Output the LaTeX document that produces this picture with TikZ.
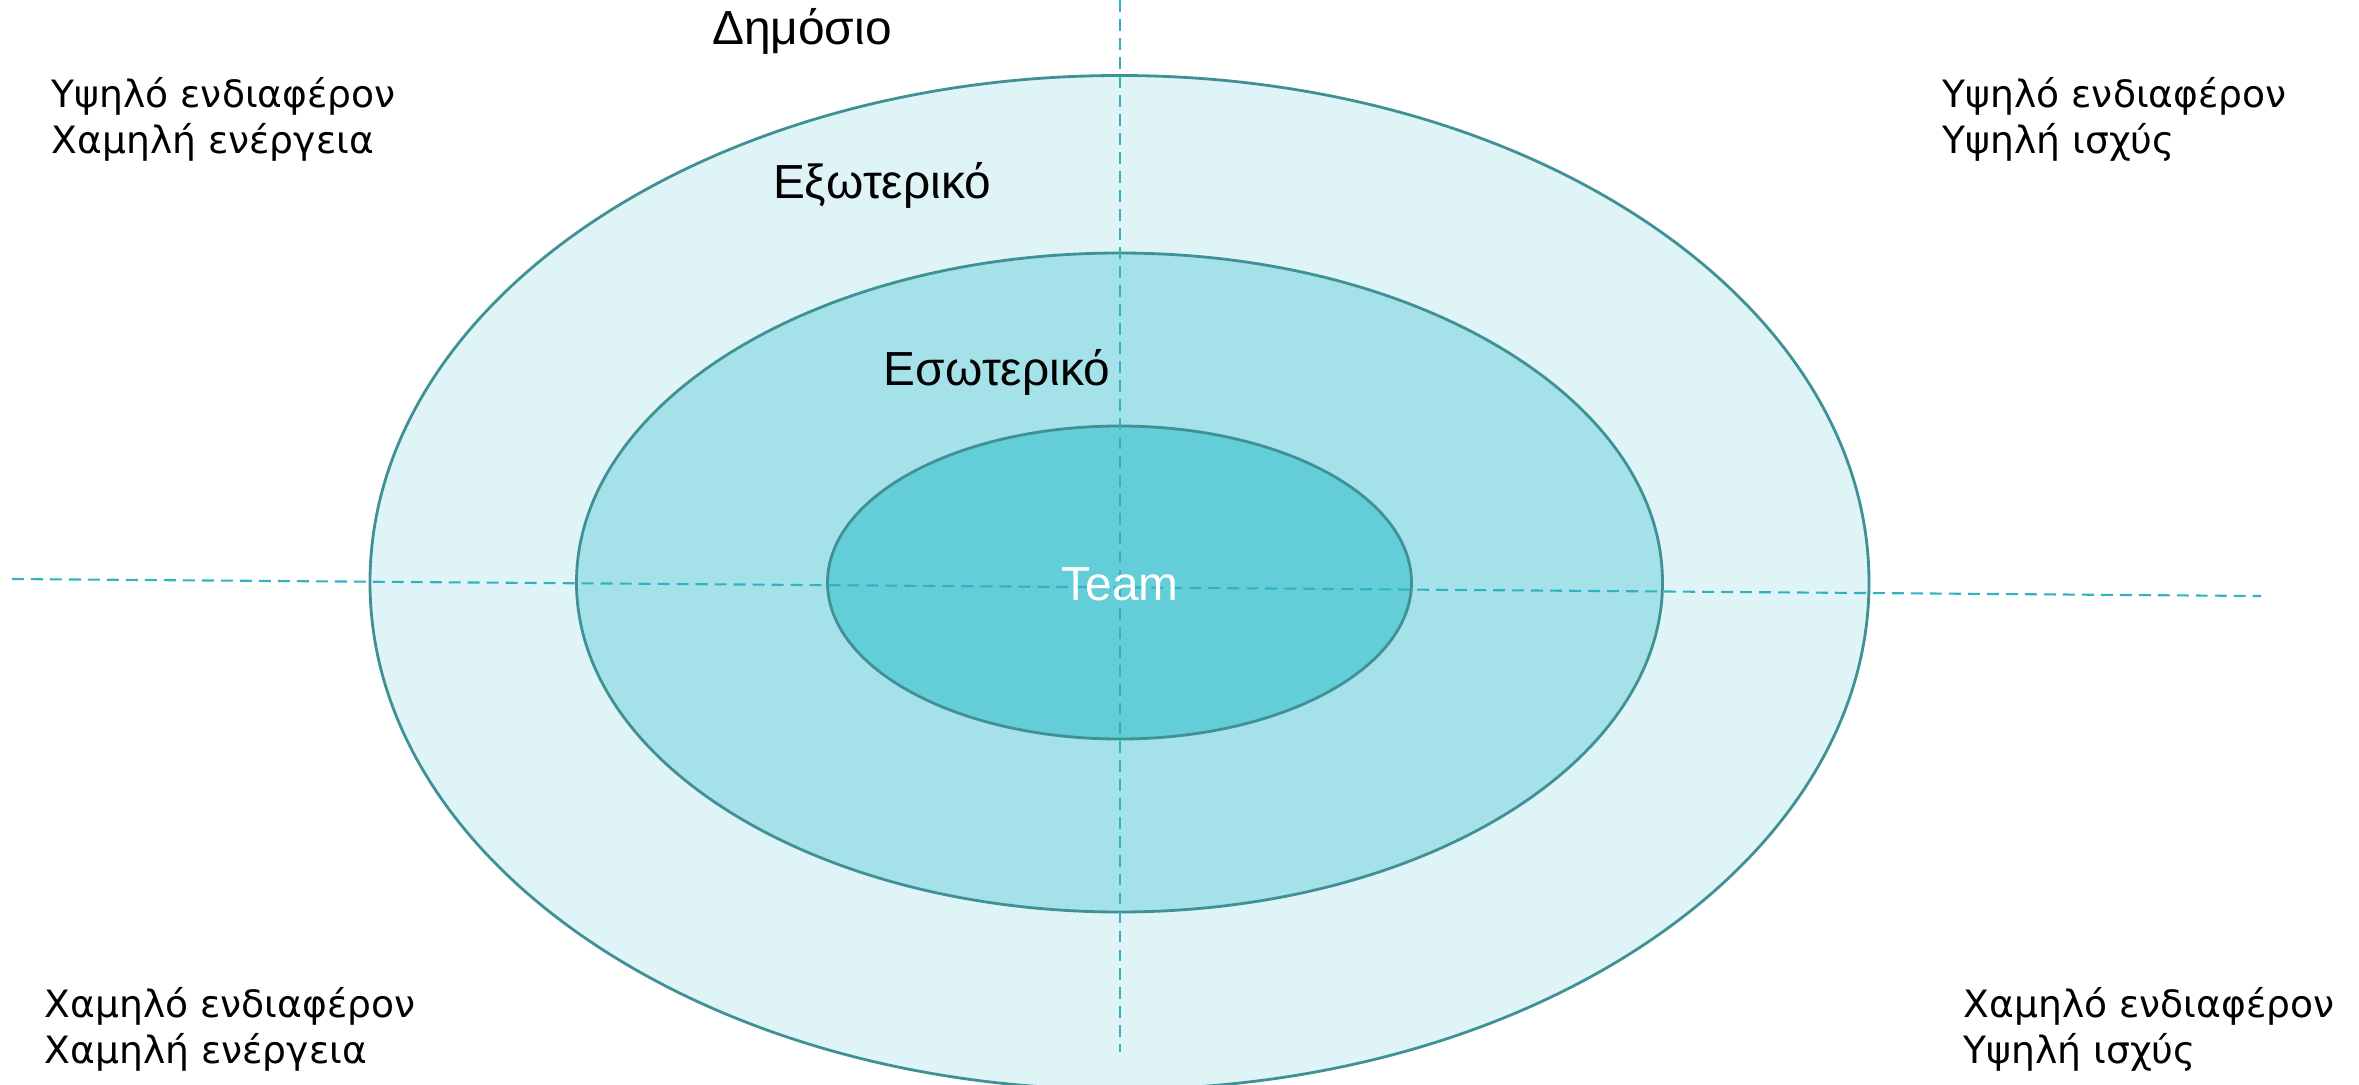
\documentclass[tikz,border=0pt]{standalone}
\usepackage{fontspec}
\setmainfont{DejaVu Sans}
\newfontfamily\ringfont{Liberation Sans}
\usetikzlibrary{positioning}
\definecolor{outerfill}{RGB}{223,244,247}
\definecolor{midfill}{RGB}{165,225,232}
\definecolor{innerfill}{RGB}{99,206,216}
\definecolor{ringline}{RGB}{64,145,150}
\definecolor{axisline}{RGB}{48,178,194}
\tikzset{every node/.append style={transform shape=false}}
\tikzset{ring/.style={draw=ringline, line width=0.8pt}}
\tikzset{axis/.style={draw=axisline, line width=0.6pt, dash pattern=on 3.4pt off 2pt}}
\tikzset{corner/.style={anchor=west, align=left, inner sep=0pt,
    font=\fontsize{10.7}{13.1}\selectfont}}
\tikzset{ringlabel/.style={inner sep=0pt, font=\ringfont\fontsize{13.6}{15}\selectfont}}

\begin{document}
\begin{tikzpicture}[x=0.01cm, y=-0.01cm]
  \useasboundingbox (0,0) rectangle (2359,1084);
  \clip (0,0) rectangle (2359,1084);

  \coordinate (c) at (1119.5,582.5);
  \draw[ring, fill=outerfill] (c) ellipse [x radius=749.5, y radius=507];
  \draw[ring, fill=midfill] (c) ellipse [x radius=543, y radius=329.5];
  \draw[ring, fill=innerfill] (c) ellipse [x radius=292, y radius=156.5];

  % dashed axes
  \coordinate (top) at (1120,0);
  \coordinate (bottom) at (1120,1052);
  \coordinate (left) at (12,579);
  \coordinate (right) at (2261,596);
  \draw[axis] (top) -- (bottom);
  \draw[axis] (left) -- (right);

  \node[ringlabel] (public) at (802,31) {Δημόσιο};
  \node[ringlabel] (external) at (882,185) {Εξωτερικό};
  \node[ringlabel] (internal) at (997,372) {Εσωτερικό};
  \node[ringlabel, text=white] (team) at (1120,584) {Team};

  \node[corner] (hilo) at (51,119) {Υψηλό ενδιαφέρον\\Χαμηλή ενέργεια};
  \node[corner] (hihi) at (1942,119) {Υψηλό ενδιαφέρον\\Υψηλή ισχύς};
  \node[corner] (lolo) at (44,1029) {Χαμηλό ενδιαφέρον\\Χαμηλή ενέργεια};
  \node[corner] (lohi) at (1963,1029) {Χαμηλό ενδιαφέρον\\Υψηλή ισχύς};
\end{tikzpicture}
\end{document}
